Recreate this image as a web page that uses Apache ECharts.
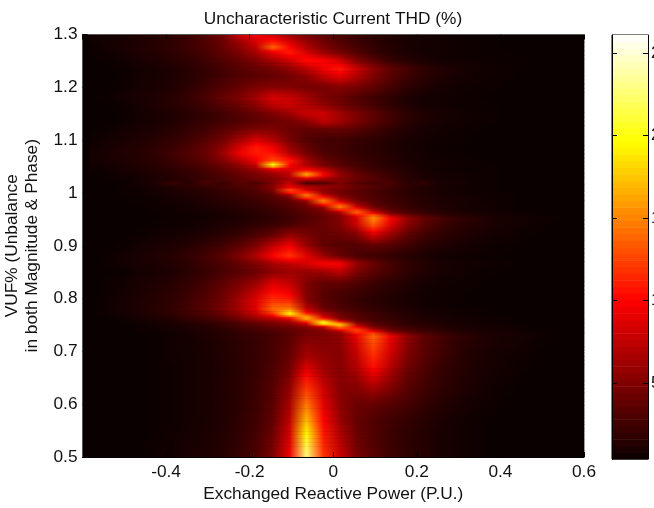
<!DOCTYPE html>
<html><head><meta charset="utf-8">
<style>html,body{margin:0;padding:0;background:#fff;overflow:hidden}#c{width:654px;height:508px}</style>
<script src="https://cdn.jsdelivr.net/npm/echarts@6/dist/echarts.min.js"></script>
</head><body><div id="c"></div>
<script>
const titleText = "Uncharacteristic Current THD (%)";
const xName = "Exchanged Reactive Power (P.U.)";
const yName = "VUF% (Unbalance\nin both Magnitude & Phase)";
const colorbarTicks = [5, 10, 15, 20, 25];
const colorMin = 0.4, colorMax = 26.1;
const xs = [-.584,-.544,-.504,-.464,-.424,-.384,-.344,-.304,-.264,-.224,-.184,-.144,-.104,-.064,-.024,.016,.056,.096,.136,.176,.216,.256,.296,.336,.376,.416,.456,.496,.536,.576,.6];
const ys = [1.3,1.285,1.275,1.265,1.25,1.235,1.22,1.2,1.18,1.165,1.15,1.135,1.12,1.1,1.085,1.075,1.06,1.052,1.044,1.034,1.025,1.018,1.011,1.005,1,.995,.99,.984,.979,.973,.968,.9625,.958,.9525,.94,.92,.9,.88,.865,.85,.83,.81,.795,.78,.771,.767,.762,.758,.754,.75,.746,.742,.738,.734,.73,.715,.69,.67,.65,.63,.6,.57,.54,.52,.5];
// THD (%), one list per VUF row; columns follow xs, trailing columns are background level
const r01=[.7,.8,1,1.2,1.5,1.8,2.4,3.2,4.6,8.5,10,8,6,4.5,3.5,2.8,2.2,1.7,1.3,1,.8,.7,.6,.5,.5];
const r02=[.6,.8,1,1.2,1.5,1.9,2.4,3.2,4.2,6,8.5,11,8.5,6,4.5,3.2,2.4,1.8,1.3,1,.8,.7,.6,.5,.5];
const r03=[.5,.7,1,1.2,1.5,1.9,2.4,3,4,5.5,7.5,14,10,7,5,3.8,2.8,2,1.4,1.1,.8,.7,.6,.5,.5];
const r04=[.5,.6,.9,1.2,1.4,1.8,2.2,2.9,3.7,4.8,6.5,9,11,8.5,6,4.6,3.3,2.2,1.5,1.1,.8,.7,.6,.5,.5,.5];
const r05=[.4,.5,.7,1,1.2,1.5,1.9,2.5,3.2,4,5,6.5,8,10.5,10,8,5,3.5,2.2,1.5,1.1,.8,.7,.6,.5,.5,.5];
const r06=[.4,.4,.5,.8,1,1.2,1.6,2.1,2.7,3.4,4,4.7,5.8,7.5,9.5,11,8,5.5,3.8,2.8,1.9,1.3,1,.8,.7,.6];
const r07=[.4,.4,.5,.8,1,1.2,1.6,2.1,2.7,3.2,3.6,4,4.5,5.5,7.5,9,7,5,3.5,2.4,1.7,1.2,.9,.7,.6,.5];
const r08=[.4,.4,.6,.9,1,1.3,1.8,2.4,3.2,4,4.8,5.2,5,4.6,4.6,5.2,4.6,3.8,2.7,1.8,1.3,.9,.7,.6,.5];
const r09=[.4,.5,.8,1,1.2,1.6,2.2,3,4,5,6.5,8.5,8,6.5,5,4.2,3.3,2.5,1.8,1.2,.8,.7,.6,.5];
const r10=[.4,.4,.6,.9,1.2,1.5,2,2.6,3.4,4.2,5.5,7.5,8,7,5.8,4.6,3.6,2.7,1.9,1.3,.9,.8,.6,.5,.5];
const r11=[.4,.4,.5,.8,1,1.2,1.6,2.1,2.6,3.3,4,5,6.2,8,8,6.3,4.8,3.7,2.6,1.7,1.2,.9,.8,.6,.5];
const r12=[.4,.4,.5,.8,1,1.3,1.7,2.1,2.6,3.2,3.7,4.2,4.5,5.5,7.5,6.3,4.8,3.6,2.6,1.7,1.2,.9,.7,.6,.5];
const r13=[.4,.5,.8,1,1.2,1.6,2.1,2.6,3.4,4.2,5,5,4.2,3.8,4,4,3.4,2.7,1.9,1.3,.9,.7,.6,.5];
const r14=[.5,.8,1,1.2,1.6,2,2.6,3.4,4.5,6.5,8.5,7,4.7,3.3,2.7,2.6,2.2,1.8,1.4,1,.8,.6,.5];
const r15=[.6,.9,1.2,1.4,1.8,2.3,3,4,5.5,8.5,11,9.5,6,4,2.8,2.6,2,1.7,1.3,.9,.7,.5,.5];
const r16=[.8,1,1.2,1.4,1.9,2.5,3.2,4,6,9.5,11,10.5,7,4.5,3,2.6,2.1,1.8,1.4,1,.8,.6,.5];
const r17=[.7,.9,1.1,1.4,1.8,2.3,2.9,3.7,5,7,9.5,13,11,6.5,4.2,3.1,2.4,1.9,1.5,1.1,.8,.7,.6,.5];
const r18=[.6,.8,1,1.3,1.6,2.1,2.6,3.3,4.2,5.8,8,21,10,7,4.7,3.5,2.7,2.1,1.6,1.2,.9,.7,.6,.5,.5];
const r19=[.5,.6,.9,1.2,1.5,1.8,2.2,2.9,3.7,4.7,6,8.5,8.5,9.5,7.5,4.6,3.2,2.4,1.8,1.3,.9,.7,.6,.5,.5];
const r20=[.4,.5,.8,.9,1.2,1.5,1.9,2.5,3.2,3.9,4.7,5.8,7.5,17,10,5.8,4,3,2.2,1.5,1,.8,.7,.6,.5];
const r21=[.4,.4,.6,.8,1.1,1.4,1.8,2.4,2.9,3.6,4.4,5.2,6.5,7.5,6.5,5.4,4.2,3.3,2.5,1.6,1.2,.9,.7,.6,.5];
const r22=[.4,.4,.5,.9,1.3,2.4,1.6,3,2.2,3.6,2.8,4.8,8,2.5,3,5,3.4,2.6,3.2,1.6,2,.9,1.1,.6,.6];
const r23=[.4,.4,.5,.7,1,1.3,1.7,2,2.5,3,3.6,5.5,9,7,6,5.2,4.2,3.3,2.6,1.9,1.3,.9,.7,.6,.5];
const r24=[.4,.4,.5,.6,.8,1.1,1.4,1.7,2.1,2.6,3.2,5,13,8,5.5,4.5,3.6,2.9,2.3,1.7,1.3,.9,.8,.6,.5];
const r25=[.4,.4,.5,.6,.8,1,1.3,1.6,2,2.5,3,4.2,11,12,6,4.5,3.6,2.9,2.3,1.7,1.3,1,.8,.7,.6,.5];
const r26=[.4,.4,.4,.6,.7,1,1.2,1.5,1.9,2.3,2.8,3.5,6,15,8,4.8,3.7,3,2.4,1.8,1.3,1,.8,.7,.6,.5];
const r27=[.4,.4,.4,.5,.7,.9,1.1,1.4,1.7,2.1,2.5,3.2,4.5,12,12,6,4,3.1,2.4,1.8,1.4,1.1,.9,.8,.6,.5];
const r28=[.4,.4,.4,.5,.6,.8,1,1.3,1.6,2,2.4,3,3.8,6,15,8,4.6,3.3,2.5,1.9,1.4,1.1,.9,.8,.6,.5];
const r29=[.4,.4,.4,.5,.6,.7,.9,1.2,1.5,1.8,2.2,2.7,3.4,4.6,12,12,6,3.6,2.7,2,1.5,1.2,1,.8,.7,.5];
const r30=[.4,.4,.4,.4,.5,.7,.9,1.1,1.3,1.7,2,2.5,3.2,4.2,6.5,15,8,4.4,3,2.2,1.6,1.2,1,.8,.7,.5];
const r31=[.4,.4,.4,.4,.5,.6,.8,1,1.2,1.5,1.9,2.3,3,3.8,5,12,12,6,3.5,2.5,1.8,1.3,1,.8,.7,.6,.5];
const r32=[.4,.4,.4,.4,.5,.6,.7,.9,1.1,1.4,1.7,2.1,2.8,3.5,4.5,6.5,14,8.5,4.4,3,2.2,1.6,1.2,.9,.8,.7,.5];
const r33=[.4,.4,.4,.4,.4,.5,.7,.8,1,1.3,1.6,2,2.6,3.3,4.1,5.5,11,13,6.5,4,2.7,1.9,1.4,1.1,.9,.8,.6];
const r34=[.4,.4,.4,.4,.4,.5,.6,.8,1,1.2,1.5,1.9,2.4,3.2,4,5.2,8.5,15.5,10,6,4,2.8,2.1,1.6,1.2,1,.8,.7,.5];
const r35=[.4,.4,.4,.4,.5,.6,.7,.9,1.1,1.4,1.8,2.2,2.8,3.5,4,5,8,13.5,9,5.5,3.6,2.5,1.8,1.4,1.1,.8,.7,.5];
const r36=[.4,.4,.4,.5,.7,.8,1,1.3,1.7,2.2,3,4,5.8,4.8,4,4.2,5,8.5,6,3.8,2.6,1.9,1.4,1.1,.8,.7,.5];
const r37=[.4,.4,.5,.8,1,1.2,1.5,2,2.6,3.6,5,7.5,9.5,6,3.8,3.4,3.3,3.8,3.3,2.5,1.8,1.3,1,.8,.6,.5];
const r38=[.4,.5,.8,1,1.2,1.5,2,2.6,3.5,5,7,10,12,9,6,4,2.9,2.4,2,1.5,1.1,.8,.7,.6,.5];
const r39=[.4,.5,.7,1,1.1,1.4,1.8,2.4,3,3.9,5,6.5,7.5,8.5,10,10,6,4.2,2.8,2,1.4,1,.8,.7,.6,.5];
const r40=[.4,.4,.5,.8,1,1.2,1.7,2.2,2.9,3.5,4.3,5.5,6.2,6,6.2,7.5,5,3.6,2.7,1.9,1.3,.9,.8,.6,.5];
const r41=[.4,.5,.7,1,1.2,1.5,2,2.7,3.6,4.7,6,8.5,7.5,5,3.9,3.9,3.2,2.4,1.8,1.3,.9,.7,.6,.5];
const r42=[.4,.5,.8,1.1,1.4,1.8,2.3,3.1,4.2,5.7,7.8,10.5,9.5,5,3.4,2.8,2.4,1.8,1.4,1,.7,.6,.5];
const r43=[.4,.6,.9,1.2,1.5,1.9,2.6,3.4,4.5,6.5,9,12,11.5,5.5,3.6,2.8,2.1,1.7,1.3,1,.7,.6,.5];
const r44=[.4,.6,.9,1.2,1.6,2,2.7,3.5,4.7,6.5,9,14,14.5,7.5,4.2,3.2,2.5,2,1.5,1.2,.9,.7,.6,.5];
const r45=[.4,.5,.8,1.1,1.5,1.9,2.5,3.1,4.2,5.7,7.8,12,20,11,6.5,4.2,3.2,2.5,1.9,1.4,1,.8,.7,.6,.5];
const r46=[.4,.5,.7,1,1.3,1.7,2.3,2.9,3.8,5.2,7,9.5,16,15,7.5,4.5,3.3,2.6,1.9,1.5,1.1,.9,.7,.6,.5];
const r47=[.4,.4,.7,.9,1.2,1.5,2,2.5,3.3,4.5,6,7.5,9.5,17,10,5,3.5,2.7,2,1.6,1.2,1,.8,.7,.6,.5];
const r48=[.4,.4,.6,.8,1,1.3,1.8,2.2,2.9,3.9,5,6,7.5,14,16,7,4,2.9,2.2,1.7,1.3,1,.8,.7,.6,.5];
const r49=[.4,.4,.4,.7,.9,1.1,1.5,1.9,2.5,3.3,4.2,5,6,10,21,13,5,3.3,2.4,1.8,1.4,1.1,.9,.8,.7,.5];
const r50=[.4,.4,.4,.6,.8,1,1.3,1.7,2.2,2.9,3.7,4.5,5.2,7,17,18,7,3.8,2.7,2,1.6,1.3,1,.8,.7,.6,.5];
const r51=[.4,.4,.4,.5,.7,.9,1.2,1.5,2,2.6,3.2,3.8,4.4,5.5,8,15,9,4.5,3.2,2.4,1.8,1.4,1.1,.9,.8,.7,.5];
const r52=[.4,.4,.4,.5,.6,.8,1.1,1.4,1.8,2.3,2.9,3.4,3.9,4.7,6,12,12,6.5,3.8,2.8,2.1,1.6,1.2,1,.9,.8,.6,.5];
const r53=[.4,.4,.4,.5,.6,.8,1,1.3,1.6,2.1,2.6,3.1,3.7,4.4,5.2,7.5,12.5,9,4.6,3.3,2.4,1.8,1.4,1.1,.9,.8,.7,.5];
const r54=[.4,.4,.4,.4,.6,.7,1,1.2,1.5,2,2.4,2.9,3.6,4.6,5,6,11,12,6.5,4,2.9,2.2,1.6,1.2,1,.9,.7,.6];
const r55=[.4,.4,.4,.4,.5,.7,.9,1.2,1.5,1.9,2.3,2.8,3.6,4.8,5,5.7,9.5,14,9.5,5.8,3.8,2.8,2,1.5,1.1,.9,.8,.6];
const r56=[.4,.4,.4,.4,.5,.7,.8,1.1,1.4,1.8,2.2,2.8,3.7,5.5,5.2,5.4,8.5,13,9,5.5,3.7,2.7,1.9,1.4,1.1,.9,.7,.5];
const r57=[.4,.4,.4,.4,.5,.7,.8,1,1.3,1.7,2.2,2.8,4,6.5,5.7,5.2,7.5,11.5,8,5,3.5,2.5,1.7,1.2,.9,.7,.6];
const r58=[.4,.4,.4,.4,.5,.6,.8,1,1.3,1.7,2.2,3,4.4,8.5,6.2,5.2,7,10.5,7.2,4.4,3.2,2.2,1.6,1.2,.9,.7,.5];
const r59=[.4,.4,.4,.4,.5,.6,.8,1,1.3,1.7,2.2,3.2,5,10.5,7,5.2,6,8.5,6,4,2.9,2,1.5,1.1,.8,.6];
const r60=[.4,.4,.4,.4,.5,.6,.8,1,1.3,1.7,2.3,3.4,5.6,12,8,5.2,5.2,6.5,5,3.5,2.6,1.8,1.4,1,.7,.5];
const r61=[.4,.4,.4,.4,.5,.6,.8,1,1.3,1.7,2.4,3.6,6.5,14.5,9,5.5,4.2,4,3.4,2.8,2,1.5,1.1,.8,.6];
const r62=[.4,.4,.4,.4,.5,.6,.8,1,1.3,1.8,2.5,3.8,7.5,17,10,6,4,3.2,2.6,2,1.6,1.1,.8,.6];
const r63=[.4,.4,.4,.4,.5,.7,.9,1.1,1.4,1.9,2.8,4.4,8.5,20,11,7,4.3,3.2,2.4,1.8,1.4,1,.8,.6];
const r64=[.4,.4,.4,.4,.6,.7,1,1.1,1.5,2,2.9,4.6,9,21.5,11.5,7.5,4.5,3.3,2.4,1.8,1.4,1,.8,.6];
const r65=[.4,.4,.4,.4,.6,.7,1,1.1,1.5,2.1,3,4.8,9.5,23,12,8,4.8,3.4,2.5,1.8,1.4,1,.8,.6];
const thdRows=[r01,r02,r03,r04,r05,r06,r07,r08,r09,r10,r11,r12,r13,r14,r15,r16,r17,r18,r19,r20,r21,r22,r23,r24,r25,r26,r27,r28,r29,r30,r31,r32,r33,r34,r35,r36,r37,r38,r39,r40,r41,r42,r43,r44,r45,r46,r47,r48,r49,r50,r51,r52,r53,r54,r55,r56,r57,r58,r59,r60,r61,r62,r63,r64,r65];

const FONT='"Liberation Sans",Arial,sans-serif';
const TEXT='#111';
const val=(i,k)=>{const v=thdRows[i][k];return v===undefined?colorMin:v;};
function hot(v){
  const t=Math.min(1,Math.max(0,(v-colorMin)/(colorMax-colorMin)));
  const r=Math.min(1,.04+t/.375*.96), g=Math.max(0,Math.min(1,(t-.375)/.375)), b=Math.max(0,Math.min(1,(t-.75)/.25));
  return `rgb(${Math.round(r*255)},${Math.round(g*255)},${Math.round(b*255)})`;
}
const cells=[];
for(let i=0;i<ys.length-1;i++)for(let k=0;k<xs.length-1;k++)cells.push([xs[k],ys[i],xs[k+1],ys[i+1],k,i]);
const barLevels=[];
for(let n=0;n<64;n++)barLevels.push(n);
const barStep=(colorMax-colorMin)/64;
// Shading of one cell between its four read corners, like MATLAB's "shading interp"
const renderCell=(p,api)=>{
  const a=api.coord([api.value(0),api.value(1)]),b=api.coord([api.value(2),api.value(3)]);
  const k=api.value(4),i=api.value(5);
  const tl=val(i,k),tr=val(i,k+1),bl=val(i+1,k),br=val(i+1,k+1);
  const h=b[1]-a[1],m=Math.max(1,Math.ceil(h/1.5)),children=[];
  for(let s=0;s<m;s++){
    const f=(s+.5)/m,L=tl+(bl-tl)*f,R=tr+(br-tr)*f;
    children.push({type:'rect',silent:true,shape:{x:a[0]-.3,y:a[1]+h*s/m-.3,width:b[0]-a[0]+.6,height:h/m+.6},
      style:{fill:{type:'linear',x:0,y:0,x2:1,y2:0,colorStops:[{offset:0,color:hot(L)},{offset:1,color:hot(R)}]}}});
  }
  return {type:'group',children};
};
const renderBar=(p,api)=>{
  const n=api.value(0),v=colorMin+n*barStep;
  const a=api.coord([0,v]),b=api.coord([1,v+barStep]);
  return {type:'rect',shape:{x:a[0],y:b[1],width:b[0]-a[0],height:a[1]-b[1]+.5},silent:true,style:{fill:hot(v+barStep/2)}};
};
const frame={lineStyle:{color:'#000',width:1}};
const chart=echarts.init(document.getElementById('c'),null,{renderer:'canvas'});
chart.setOption({
  animation:false,backgroundColor:'#fff',
  title:{text:titleText,left:328,top:6,textAlign:'center',textStyle:{fontFamily:FONT,fontWeight:'normal',fontSize:17.3,color:TEXT}},
  grid:[{left:82.5,top:34.5,width:501.5,height:422.5,outerBoundsMode:'none',show:true,backgroundColor:hot(colorMin),borderWidth:0},
        {left:612,top:35,width:36,height:424,outerBoundsMode:'none',show:true,borderColor:'#000',borderWidth:1,backgroundColor:'transparent'}],
  xAxis:[
    {gridIndex:0,type:'value',min:-.6,max:.6,interval:.2,position:'bottom',z:10,name:xName,nameLocation:'middle',nameGap:28,nameTextStyle:{fontFamily:FONT,fontSize:17.3,color:TEXT},
     axisLine:{show:true,onZero:false,...frame},axisTick:{show:true,inside:true,length:5,lineStyle:{color:'#000'}},splitLine:{show:false},
     axisLabel:{showMinLabel:false,fontFamily:FONT,fontSize:17.3,color:TEXT,margin:7,formatter:v=>String(+v.toFixed(1))}},
    {gridIndex:0,type:'value',min:-.6,max:.6,interval:.2,position:'top',z:10,axisLine:{show:true,onZero:false,lineStyle:{color:'#555'}},axisTick:{show:true,inside:true,length:5,lineStyle:{color:'#000'}},axisLabel:{show:false},splitLine:{show:false}},
    {gridIndex:1,type:'value',min:0,max:1,show:false}
  ],
  yAxis:[
    {gridIndex:0,type:'value',min:.5,max:1.3,interval:.1,z:10,name:yName,nameLocation:'middle',nameGap:34,nameRotate:90,nameTextStyle:{fontFamily:FONT,fontSize:17.3,color:TEXT,lineHeight:20,align:'center'},
     axisLine:{show:true,onZero:false,lineStyle:{color:'#555'}},axisTick:{show:true,inside:true,length:5,lineStyle:{color:'#000'}},splitLine:{show:false},
     axisLabel:{fontFamily:FONT,fontSize:17.3,color:TEXT,margin:5,formatter:v=>String(+v.toFixed(1))}},
    {gridIndex:1,type:'value',min:colorMin,max:colorMax,position:'right',z:10,axisLine:{show:true,onZero:false,...frame},
     axisTick:{show:true,inside:true,length:5,customValues:colorbarTicks,lineStyle:{color:'#000'}},splitLine:{show:false},
     axisLabel:{customValues:colorbarTicks,fontFamily:FONT,fontSize:17.3,color:TEXT,margin:3}},
    {gridIndex:1,type:'value',min:colorMin,max:colorMax,position:'left',z:10,axisLine:{show:true,onZero:false,...frame},
     axisTick:{show:true,inside:true,length:5,customValues:colorbarTicks,lineStyle:{color:'#000'}},axisLabel:{show:false},splitLine:{show:false}}
  ],
  series:[
    {type:'custom',name:'Uncharacteristic Current THD',xAxisIndex:0,yAxisIndex:0,data:cells,renderItem:renderCell,progressive:0,silent:true,clip:true,encode:{x:[0,2],y:[1,3]}},
    {type:'custom',name:'Colorbar',xAxisIndex:2,yAxisIndex:1,data:barLevels,renderItem:renderBar,progressive:0,silent:true,encode:{y:0}}
  ]
});
</script></body></html>
